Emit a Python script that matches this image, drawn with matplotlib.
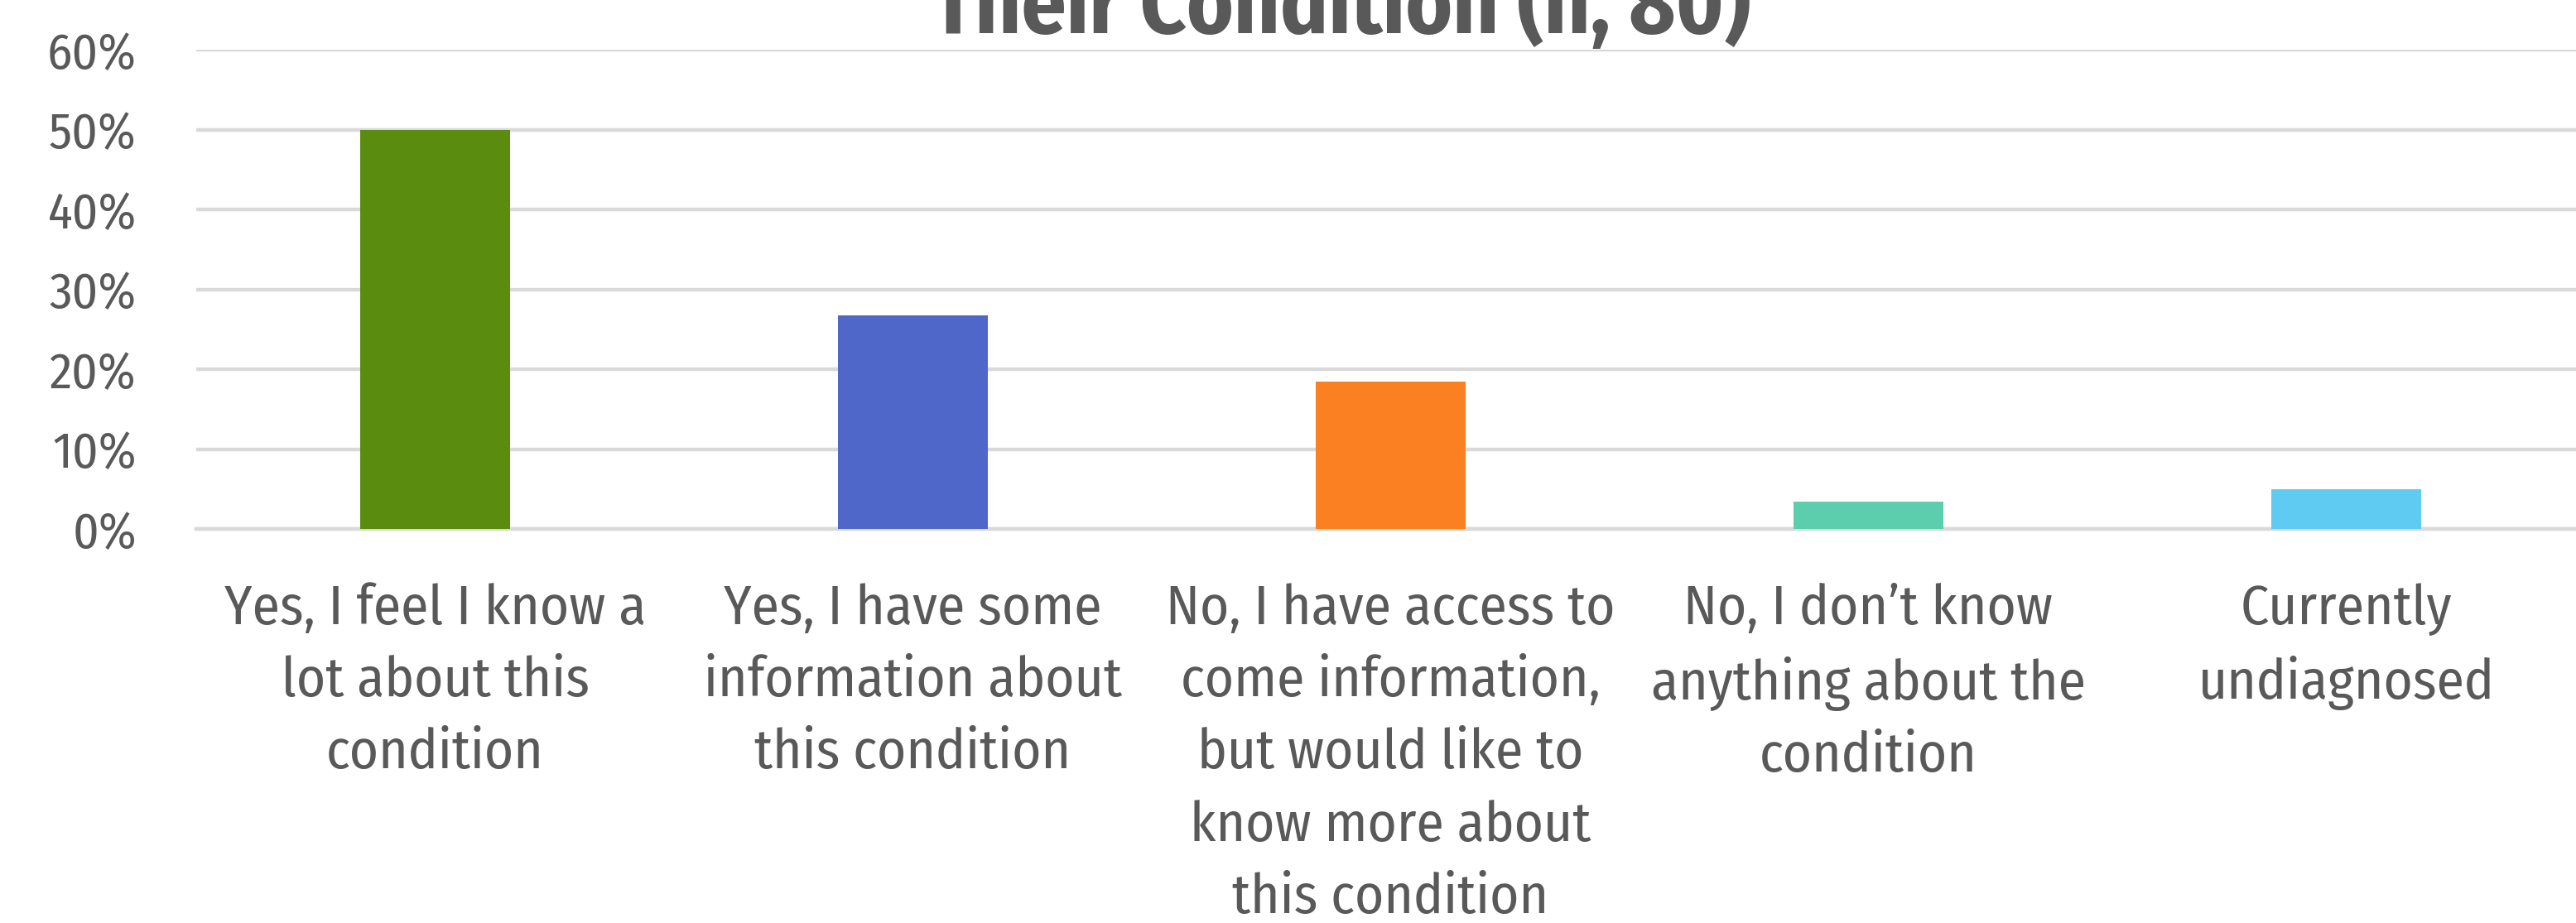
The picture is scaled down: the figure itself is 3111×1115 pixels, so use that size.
import numpy as np
import matplotlib.pyplot as plt

# data (share of respondents, %)
categories = [
    "Yes, I feel I know a\nlot about this\ncondition",
    "Yes, I have some\ninformation about\nthis condition",
    "No, I have access to\ncome information,\nbut would like to\nknow more about\nthis condition",
    "No, I don\u2019t know\nanything about the\ncondition",
    "Currently\nundiagnosed",
]
values = [50.0, 26.7, 18.4, 3.4, 5.0]
colors = ["#5a8c0f", "#4e67c8", "#fb8022", "#5ccdad", "#60cbf2"]
yticks = [0, 10, 20, 30, 40, 50, 60]
title = "Their Condition (n, 80)"

FONT = ["Fira Sans Condensed", "DejaVu Sans"]
GREY = "#595959"
plt.rcParams['font.family'] = FONT

fig = plt.figure(figsize=(31.11, 11.15), dpi=100)
W, H = 3111, 1115
left, right = 237, 3122
top, bottom = 60, 639
ax = fig.add_axes([left / W, 1 - bottom / H, (right - left) / W, (bottom - top) / H])

x = np.arange(len(categories))
ax.bar(x, values, width=0.315, color=colors, zorder=3)

ax.set_xlim(-0.5, len(categories) - 0.5)
ax.set_ylim(0, 60)
ax.set_yticks(yticks)
ax.set_yticklabels(["%d%%" % t for t in yticks])
ax.yaxis.grid(True, color="#d9d9d9", linewidth=3.2, zorder=0)
ax.set_axisbelow(True)

ax.set_xticks(x)
ax.set_xticklabels(categories, linespacing=1.47)
ax.tick_params(axis='x', length=0, pad=47, labelsize=48.5, labelcolor=GREY)
ax.tick_params(axis='y', length=0, pad=52, labelsize=44, labelcolor=GREY)

for s in ax.spines.values():
    s.set_visible(False)
ax.spines['bottom'].set_visible(True)
ax.spines['bottom'].set_color("#d9d9d9")
ax.spines['bottom'].set_linewidth(3.2)

# title is cut off by the top edge in the reference
fig.text(1620 / W, 1 - 40 / H, title, ha='center', va='baseline',
         fontsize=77, fontweight='bold', color=GREY)

fig.savefig("out.png", dpi=100)
